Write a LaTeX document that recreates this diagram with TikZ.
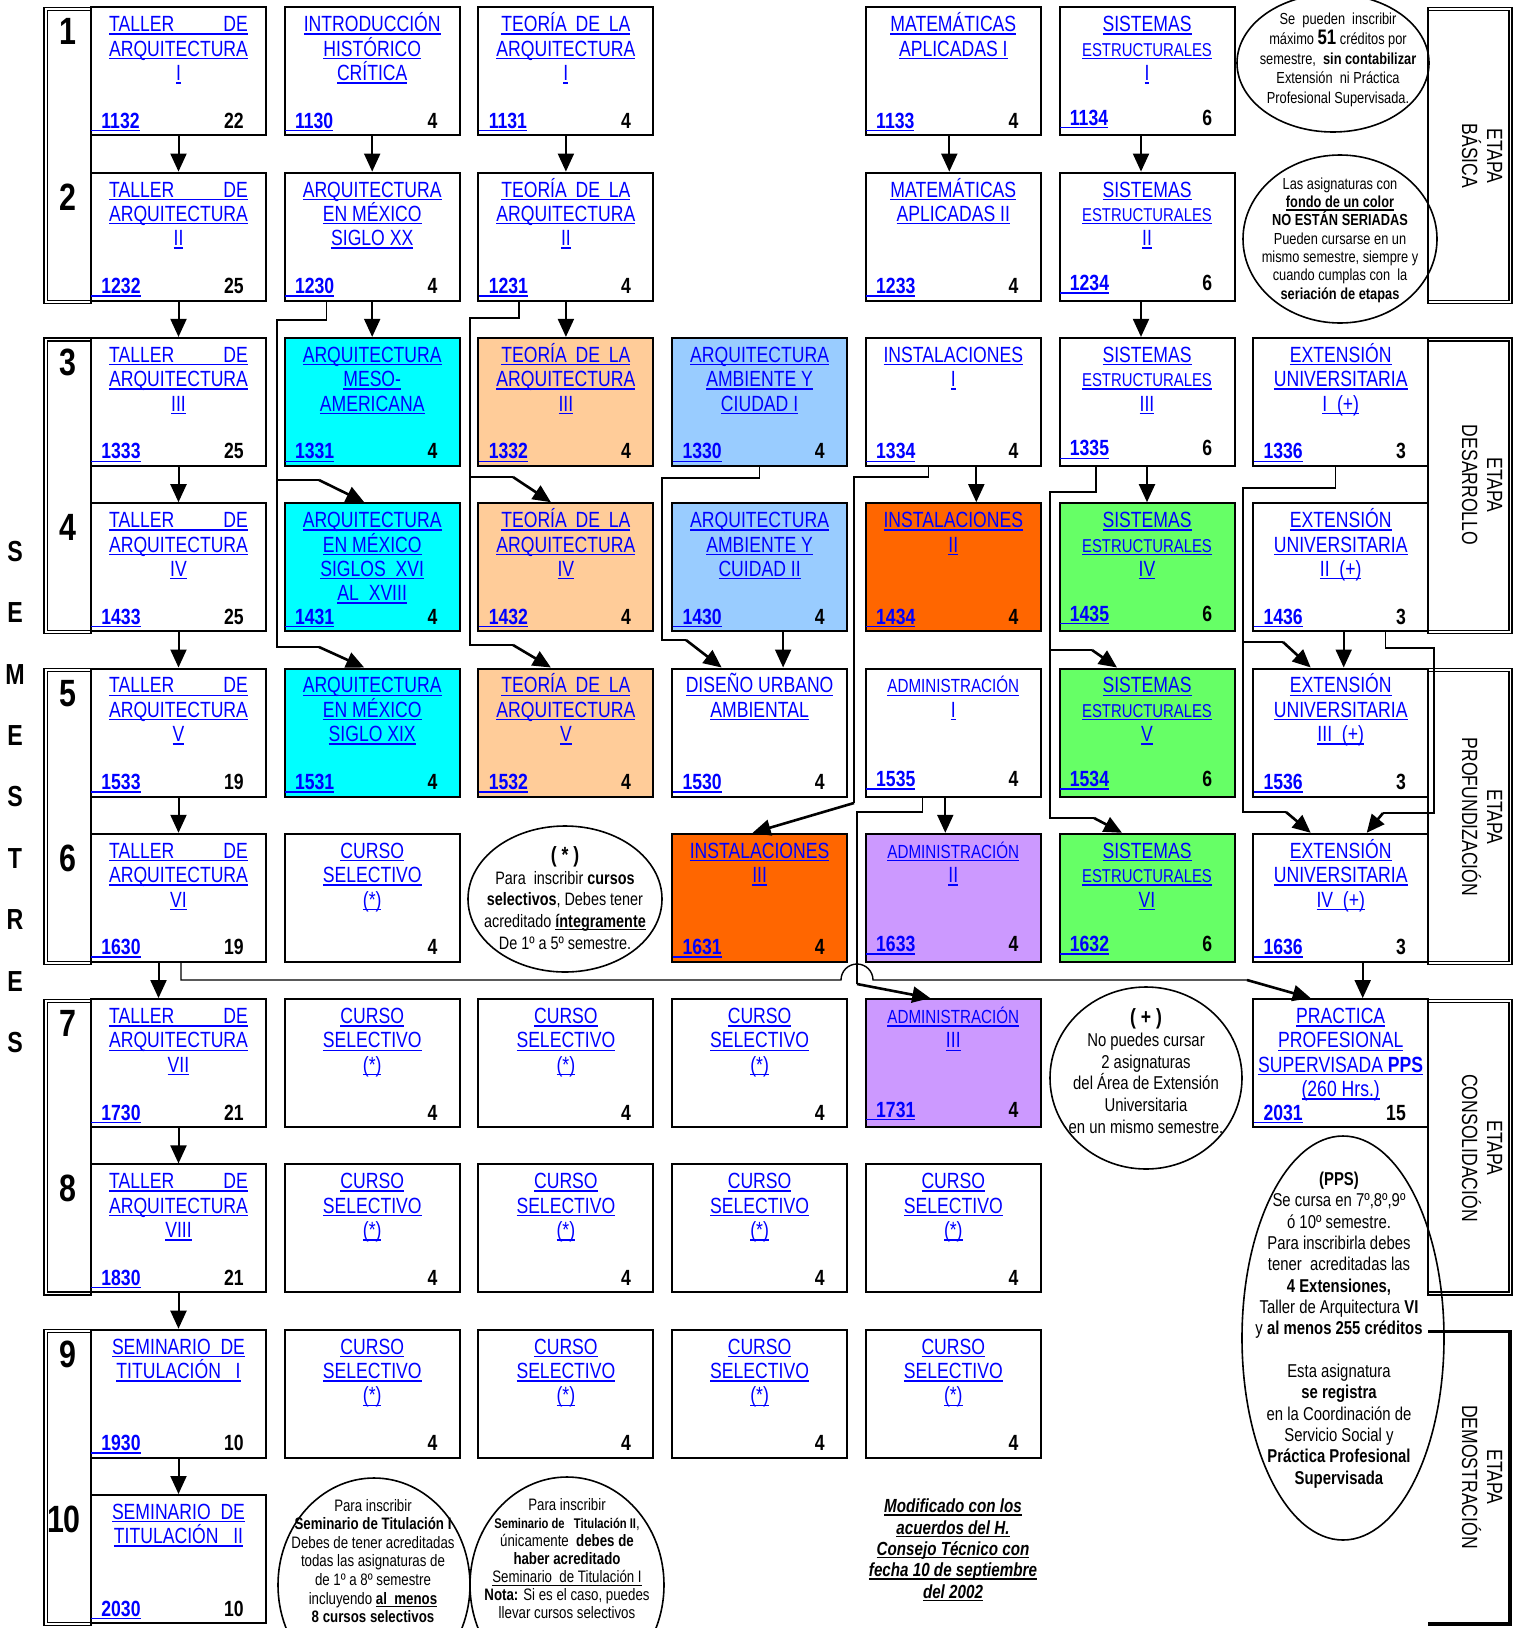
\documentclass[tikz,border=0pt]{standalone}
\usepackage{fontspec}
\setmainfont{Liberation Sans}[FakeStretch=0.8]
\usetikzlibrary{arrows.meta,calc,shapes.geometric}
\definecolor{cyanb}{RGB}{0,255,255}
\definecolor{peach}{RGB}{255,204,153}
\definecolor{lblue}{RGB}{153,204,255}
\definecolor{orng}{RGB}{255,102,0}
\definecolor{grn}{RGB}{102,255,102}
\definecolor{lav}{RGB}{204,153,255}
\definecolor{lnk}{RGB}{0,0,255}
\newlength\twlen
\newcommand\tw[3][1]{\settowidth{\twlen}{#2}\makebox[#1\twlen][s]{#3}}
\newcommand\ulx[1]{\setbox0=\hbox{#1}\rlap{\rule[-1.5pt]{\wd0}{0.7pt}}\box0}
\newcommand\cd[1]{\ulx{\hspace{5pt}#1}}
\newcommand\craise{4pt}
\newcommand\TL[1]{\ulx{\tw{ARQUITECTURA}{TALLER\hfill DE}}\\\ulx{ARQUITECTURA}\\\ulx{#1}}
\newcommand\TE[1]{\ulx{\tw[0.93]{ARQUITECTURA}{TEORÍA\hfill DE\hfill LA}}\\\ulx{ARQUITECTURA}\\\ulx{#1}}
\newcommand\SE[1]{\ulx{SISTEMAS}\\{\fontsize{9.3}{12.2}\selectfont\ulx{ESTRUCTURALES}}\\\ulx{#1}}
\newcommand\CS{\ulx{CURSO}\\\ulx{SELECTIVO}\\\ulx{(*)}}
\newcommand\EU[1]{\ulx{EXTENSIÓN}\\\ulx{UNIVERSITARIA}\\\ulx{#1~~(+)}}
\newcommand\AD[1]{{\fontsize{9.5}{12.2}\selectfont\ulx{ADMINISTRACIÓN}}\\\ulx{#1}}
\tikzset{
  cbox/.style={draw,line width=1pt,minimum width=87.5pt,minimum height=64pt,inner sep=0pt},
  ctitle/.style={anchor=north,inner sep=0pt,align=center,text=lnk,font=\fontsize{11}{12.2}\selectfont},
  ccode/.style={anchor=base west,inner sep=0pt,text=lnk,font=\bfseries\fontsize{11}{12}\selectfont},
  ccred/.style={anchor=base east,inner sep=0pt,font=\bfseries\fontsize{11}{12}\selectfont},
  arr/.style={line width=1pt,-{Triangle[length=9pt,width=8pt]}},
  route/.style={line width=0.7pt},
  darr/.style={line width=1.3pt,-{Triangle[length=9pt,width=8pt]}},
  frm/.style={line width=0.6pt},
  ell/.style={draw,ellipse,line width=0.8pt,inner sep=0pt},
  etxt/.style={align=center,inner sep=0pt},
  snum/.style={anchor=base,inner sep=0pt,font=\bfseries\fontsize{19}{20}\selectfont},
  etapa/.style={rotate=-90,align=center,inner sep=0pt,font=\fontsize{11}{12.5}\selectfont}
}
\newcommand\course[7]{%
  \node[cbox,fill=#4] (#1) at ({91+193.7*(#2-1)+87.5},{7.3+165.3*(#3-1)+64}) {};
  \node[ctitle] (#1t) at ([yshift=-2pt]#1.north) {\rule{0pt}{10.5pt}#5};
  \node[ccode] (#1c) at ([xshift=0.5pt,yshift=\craise]#1.south west) {#6};
  \node[ccred] (#1r) at ([xshift=-11.5pt,yshift=\craise]#1.south east) {#7};
}
\begin{document}
\begin{tikzpicture}[x=0.5pt,y=-0.5pt]
\fill[white] (0,0) rectangle (1522,1628);
\useasboundingbox (0,0) rectangle (1522,1628);
% frames
\foreach \p in {0,...,4}{
  \pgfmathsetmacro\ya{7.3+330.6*\p}
  \pgfmathsetmacro\yb{\ya+293.3}
  \draw[frm] (44,\ya) rectangle (91,\yb+2.5);
  \draw[frm] (47.5,\ya+3) rectangle (91,\yb-0.5);
}
\foreach \p in {0,...,3}{
  \pgfmathsetmacro\ya{7.3+330.6*\p}
  \pgfmathsetmacro\yb{\ya+293.3}
  \draw[frm] (1428,\ya) rectangle (1512,\yb+2.5);
  \draw[frm] (1428,\ya+3) rectangle (1509,\yb-0.5);
}
\draw[line width=1.6pt] (1428,1331.5) -- (1510,1331.5) -- (1510,1624) -- (1428,1624);
% row 1
\course{n1132}{1}{1}{white}{\TL{I}}{\cd{1132}}{22}
\course{n1130}{2}{1}{white}{\ulx{INTRODUCCIÓN}\\\ulx{HISTÓRICO}\\\ulx{CRÍTICA}}{\cd{1130}}{4}
\course{n1131}{3}{1}{white}{\TE{I}}{\cd{1131}}{4}
\course{n1133}{5}{1}{white}{\ulx{MATEMÁTICAS}\\\ulx{APLICADAS I}}{\cd{1133}}{4}
% row 2
\course{n1232}{1}{2}{white}{\TL{II}}{\cd{1232}}{25}
\course{n1230}{2}{2}{white}{\ulx{ARQUITECTURA}\\\ulx{EN MÉXICO}\\\ulx{SIGLO XX}}{\cd{1230}}{4}
\course{n1231}{3}{2}{white}{\TE{II}}{\cd{1231}}{4}
\course{n1233}{5}{2}{white}{\ulx{MATEMÁTICAS}\\\ulx{APLICADAS II}}{\cd{1233}}{4}
% row 3
\course{n1333}{1}{3}{white}{\TL{III}}{\cd{1333}}{25}
\course{n1331}{2}{3}{cyanb}{\ulx{ARQUITECTURA}\\\ulx{MESO-}\\\ulx{AMERICANA}}{\cd{1331}}{4}
\course{n1332}{3}{3}{peach}{\TE{III}}{\cd{1332}}{4}
\course{n1330}{4}{3}{lblue}{\ulx{ARQUITECTURA}\\\ulx{AMBIENTE Y}\\\ulx{CIUDAD I}}{\cd{1330}}{4}
\course{n1334}{5}{3}{white}{\ulx{INSTALACIONES}\\\ulx{I}}{\cd{1334}}{4}
\course{n1336}{7}{3}{white}{\EU{I}}{\cd{1336}}{3}
% row 4
\course{n1433}{1}{4}{white}{\TL{IV}}{\cd{1433}}{25}
\course{n1431}{2}{4}{cyanb}{\ulx{ARQUITECTURA}\\\ulx{EN MÉXICO}\\\ulx{SIGLOS~~XVI}\\\ulx{AL~~XVIII}}{\cd{1431}}{4}
\course{n1432}{3}{4}{peach}{\TE{IV}}{\cd{1432}}{4}
\course{n1430}{4}{4}{lblue}{\ulx{ARQUITECTURA}\\\ulx{AMBIENTE Y}\\\ulx{CUIDAD II}}{\cd{1430}}{4}
\course{n1434}{5}{4}{orng}{\ulx{INSTALACIONES}\\\ulx{II}}{\cd{1434}}{4}
\course{n1436}{7}{4}{white}{\EU{II}}{\cd{1436}}{3}
% row 5
\course{n1533}{1}{5}{white}{\TL{V}}{\cd{1533}}{19}
\course{n1531}{2}{5}{cyanb}{\ulx{ARQUITECTURA}\\\ulx{EN MÉXICO}\\\ulx{SIGLO XIX}}{\cd{1531}}{4}
\course{n1532}{3}{5}{peach}{\TE{V}}{\cd{1532}}{4}
\course{n1530}{4}{5}{white}{\ulx{DISEÑO URBANO}\\\ulx{AMBIENTAL}}{\cd{1530}}{4}
\course{n1536}{7}{5}{white}{\EU{III}}{\cd{1536}}{3}
% row 6
\course{n1630}{1}{6}{white}{\TL{VI}}{\cd{1630}}{19}
\course{cs62}{2}{6}{white}{\CS}{}{4}
\course{n1631}{4}{6}{orng}{\ulx{INSTALACIONES}\\\ulx{III}}{\cd{1631}}{4}
\course{n1636}{7}{6}{white}{\EU{IV}}{\cd{1636}}{3}
% row 7
\course{n1730}{1}{7}{white}{\TL{VII}}{\cd{1730}}{21}
\course{cs72}{2}{7}{white}{\CS}{}{4}
\course{cs73}{3}{7}{white}{\CS}{}{4}
\course{cs74}{4}{7}{white}{\CS}{}{4}
\course{n2031}{7}{7}{white}{\ulx{PRACTICA}\\\ulx{PROFESIONAL}\\\ulx{SUPERVISADA \textbf{PPS}}\\\ulx{(260 Hrs.)}}{\cd{2031}}{15}
% row 8
\course{n1830}{1}{8}{white}{\TL{VIII}}{\cd{1830}}{21}
\course{cs82}{2}{8}{white}{\CS}{}{4}
\course{cs83}{3}{8}{white}{\CS}{}{4}
\course{cs84}{4}{8}{white}{\CS}{}{4}
\course{cs85}{5}{8}{white}{\CS}{}{4}
% row 9
\course{n1930}{1}{9}{white}{\ulx{SEMINARIO~~DE}\\\ulx{TITULACIÓN~~~I}}{\cd{1930}}{10}
\course{cs92}{2}{9}{white}{\CS}{}{4}
\course{cs93}{3}{9}{white}{\CS}{}{4}
\course{cs94}{4}{9}{white}{\CS}{}{4}
\course{cs95}{5}{9}{white}{\CS}{}{4}
% row 10
\course{n2030}{1}{10}{white}{\ulx{SEMINARIO~~DE}\\\ulx{TITULACIÓN~~~II}}{\cd{2030}}{10}
% raised codes
\renewcommand\craise{5.5pt}
\course{n1134}{6}{1}{white}{\SE{I}}{\cd{1134}}{6}
\course{n1234}{6}{2}{white}{\SE{II}}{\cd{1234}}{6}
\course{n1335}{6}{3}{white}{\SE{III}}{\cd{1335}}{6}
\course{n1435}{6}{4}{grn}{\SE{IV}}{\cd{1435}}{6}
\course{n1535}{5}{5}{white}{\AD{I}}{\cd{1535}}{4}
\course{n1534}{6}{5}{grn}{\SE{V}}{\cd{1534}}{6}
\course{n1633}{5}{6}{lav}{\AD{II}}{\cd{1633}}{4}
\course{n1632}{6}{6}{grn}{\SE{VI}}{\cd{1632}}{6}
\course{n1731}{5}{7}{lav}{\AD{III}}{\cd{1731}}{4}
% straight arrows
\draw[arr] (n1132) -- (n1232);
\draw[arr] (n1232) -- (n1333);
\draw[arr] (n1333) -- (n1433);
\draw[arr] (n1433) -- (n1533);
\draw[arr] (n1533) -- (n1630);
\draw[arr] ($(n1630.south)+(-20,0)$) -- ($(n1730.north)+(-20,0)$);
\draw[arr] (n1730) -- (n1830);
\draw[arr] (n1830) -- (n1930);
\draw[arr] (n1930) -- (n2030);
\draw[arr] (n1130) -- (n1230);
\draw[arr] (n1230) -- (n1331);
\draw[arr] (n1131) -- (n1231);
\draw[arr] (n1231) -- (n1332);
\draw[arr] ($(n1430.south)+(23.5,0)$) -- ($(n1530.north)+(23.5,0)$);
\draw[arr] ($(n1133.south)+(-4,0)$) -- ($(n1233.north)+(-4,0)$);
\draw[arr] ($(n1334.south)+(23,0)$) -- ($(n1434.north)+(23,0)$);
\draw[arr] ($(n1535.south)+(-8,0)$) -- ($(n1633.north)+(-8,0)$);
\draw[arr] ($(n1134.south)+(-6,0)$) -- ($(n1234.north)+(-6,0)$);
\draw[arr] ($(n1234.south)+(-6,0)$) -- ($(n1335.north)+(-6,0)$);
\draw[arr] (n1335) -- (n1435);
\draw[arr] ($(n1436.south)+(3,0)$) -- ($(n1536.north)+(3,0)$);
\draw[arr] ($(n1636.south)+(22,0)$) -- ($(n2031.north)+(22,0)$);
% routed connectors
\draw[route] ($(n1230.south)+(-46,0)$) |- (277,320) |- (319,480);
\draw[darr] (319,480) -- ($(n1431.north)+(-8,0)$);
\draw[route] (277,480) |- (319,647);
\draw[darr] (319,647) -- ($(n1531.north)+(-8,0)$);
\draw[route] ($(n1231.south)+(-47,0)$) |- (470,318) |- (513,477);
\draw[darr] (513,477) -- ($(n1432.north)+(-15,0)$);
\draw[route] (470,477) |- (513,645);
\draw[darr] (513,645) -- ($(n1532.north)+(-15,0)$);
\draw[route] (n1330.south) |- (662,478) |- (686,640);
\draw[darr] (686,640) -- ($(n1530.north)+(-38,0)$);
\draw[route] ($(n1334.south)+(-25,0)$) |- (854,477) -- (854,803);
\draw[darr] (854,803) -- ($(n1631.north)+(-7,0)$);
\draw[route] ($(n1335.south)+(-51,0)$) |- (1050,492) |- (1092,650);
\draw[darr] (1092,650) -- ($(n1534.north)+(-30,0)$);
\draw[route] (1050,650) |- (1094,818);
\draw[darr] (1094,818) -- ($(n1632.north)+(-25,0)$);
\draw[route] ($(n1336.south)+(-5,0)$) |- (1243,488) |- (1283,642);
\draw[darr] (1283,642) -- ($(n1536.north)+(-30,0)$);
\draw[route] (1243,642) |- (1286,812);
\draw[darr] (1286,812) -- ($(n1636.north)+(-30,0)$);
\draw[route] ($(n1436.south)+(45,0)$) |- (1434,648) |- (1383,813);
\draw[darr] (1383,813) -- ($(n1636.north)+(26,0)$);
\draw[route] ($(n1535.south)+(-31,0)$) |- (857,812) -- (857,984);
\draw[darr] (857,984) -- ($(n1731.north)+(-23,0)$);
\draw[route] ($(n1630.south)+(2.5,0)$) |- (841,980) arc[start angle=180,end angle=0,radius=8pt] -- (1247,980);
\draw[darr] (1247,980) -- ($(n2031.north)+(-30,0)$);
% ellipses
\node[ell,minimum width=96pt,minimum height=69pt] (e1) at (1333,63) {};
\node[ell,minimum width=97pt,minimum height=84pt] (e2) at (1340,239) {};
\node[ell,minimum width=97pt,minimum height=73pt] (e3) at (565,899) {};
\node[ell,minimum width=96pt,minimum height=91pt] (e4) at (1146,1078) {};
\node[ell,minimum width=101pt,minimum height=202pt] (e5) at (1343,1338) {};
\node[ell,minimum width=96pt,minimum height=107pt] (e6) at (374,1585) {};
\node[ell,minimum width=97pt,minimum height=108pt] (e7) at (567,1585) {};
\node[etxt,font=\fontsize{8}{9.9}\selectfont] (e1t) at (1338,60) {Se~~pueden~~inscribir\\máximo {\bfseries\fontsize{10.5}{9.9}\selectfont 51} créditos por\\semestre,~~\textbf{sin contabilizar}\\Extensión~~ni Práctica\\Profesional Supervisada.};
\node[etxt,font=\fontsize{8}{9.15}\selectfont] (e2t) at (1340,240) {Las asignaturas con\\\ulx{\textbf{fondo de un color}}\\\textbf{NO ESTÁN SERIADAS}\\Pueden cursarse en un\\mismo semestre, siempre y\\cuando cumplas con~~la\\\textbf{seriación de etapas}};
\node[etxt,font=\fontsize{9}{10.8}\selectfont] (e3t) at (565,898) {{\bfseries\fontsize{11}{10.8}\selectfont (~*~)}\\Para~~inscribir \textbf{cursos}\\\textbf{selectivos}, Debes tener\\acreditado \ulx{\textbf{íntegramente}}\\De 1º a 5º semestre.};
\node[etxt,font=\fontsize{9.3}{10.85}\selectfont] (e4t) at (1146,1071) {{\bfseries\fontsize{11}{10.85}\selectfont (~+~)}\\No puedes cursar\\2 asignaturas\\del Área de Extensión\\Universitaria\\en un mismo semestre.};
\node[etxt,font=\fontsize{9.3}{10.68}\selectfont] (e5t) at (1339,1330) {\textbf{(PPS)}\\Se cursa en 7º,8º,9º\\ó 10º semestre.\\Para inscribirla debes\\tener~~acreditadas las\\\textbf{4 Extensiones,}\\Taller de Arquitectura \textbf{VI}\\y \textbf{al menos 255 créditos}\\\mbox{}\\Esta asignatura\\\textbf{se registra}\\en la Coordinación de\\Servicio Social y\\\textbf{Práctica Profesional}\\\textbf{Supervisada}};
\node[etxt,font=\fontsize{8.3}{9.3}\selectfont] (e6t) at (373,1561) {Para inscribir\\\textbf{Seminario de Titulación I}\\Debes de tener acreditadas\\todas las asignaturas de\\de 1º a 8º semestre\\incluyendo \ulx{\textbf{al~~menos}}\\\textbf{8 cursos selectivos}};
\node[etxt,font=\fontsize{8.3}{9}\selectfont] (e7t) at (567,1559) {Para inscribir\\{\bfseries\fontsize{7}{9}\selectfont Seminario de~~~Titulación II},\\únicamente~~\textbf{debes de}\\\textbf{haber acreditado}\\\ulx{Seminario~~de Titulación I}\\\textbf{Nota:} Si es el caso, puedes\\llevar cursos selectivos};
\node[etxt,font=\bfseries\itshape\fontsize{9.5}{10.7}\selectfont] (mod) at (953,1550) {\ulx{Modificado con los}\\\ulx{acuerdos del H.}\\\ulx{Consejo Técnico con}\\\ulx{fecha 10 de septiembre}\\\ulx{del 2002}};
% semester numbers
\foreach \r in {1,...,9}{
  \node[snum] (s\r) at (68,{7.3+165.3*(\r-1)+37.5}) {\r};
}
\node[snum] (s10) at (64,{7.3+165.3*9+37.5}) {10};
\node[etxt,font=\bfseries\fontsize{14.5}{30.7}\selectfont] (sem) at (15,797) {S\\E\\M\\E\\S\\T\\R\\E\\S};
% etapas
\node[etapa] (et1) at (1482,156) {ETAPA\\BÁSICA};
\node[etapa] (et2) at (1482,485) {ETAPA\\DESARROLLO};
\node[etapa] (et3) at (1482,817) {ETAPA\\PROFUNDIZACIÓN};
\node[etapa] (et4) at (1482,1148) {ETAPA\\CONSOLIDACIÓN};
\node[etapa] (et5) at (1482,1477) {ETAPA\\DEMOSTRACIÓN};
\end{tikzpicture}
\end{document}
